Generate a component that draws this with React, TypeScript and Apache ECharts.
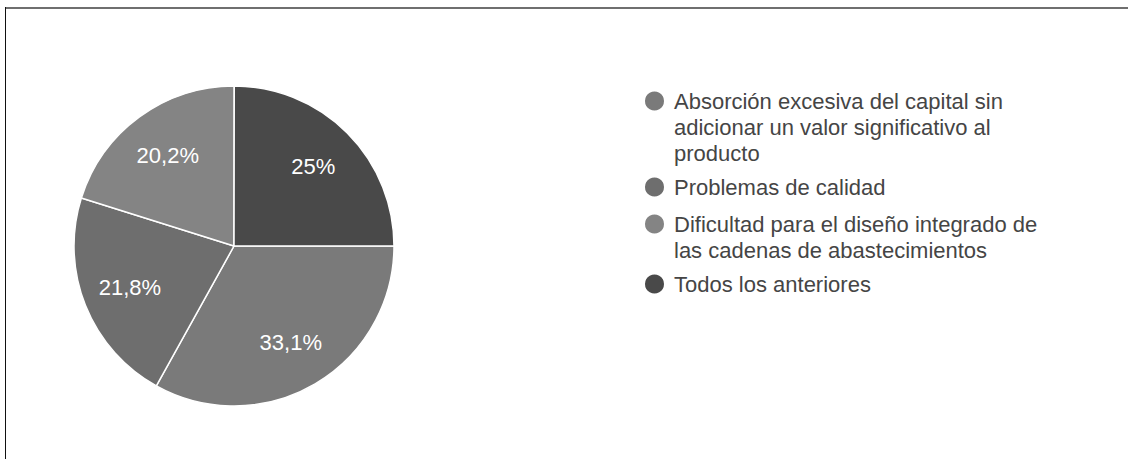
import React, { useEffect, useRef } from "react";
import * as echarts from "echarts";

const categories = [
  "Absorción excesiva del capital sin adicionar un valor significativo al producto",
  "Problemas de calidad",
  "Dificultad para el diseño integrado de las cadenas de abastecimientos",
  "Todos los anteriores",
];
const legendLines = [
  ["Absorción excesiva del capital sin", "adicionar un valor significativo al", "producto"],
  ["Problemas de calidad"],
  ["Dificultad para el diseño integrado de", "las cadenas de abastecimientos"],
  ["Todos los anteriores"],
];
const values = [33.1, 21.8, 20.2, 25];
const colors = ["#7a7a7a", "#6e6e6e", "#848484", "#494949"];

export default function App() {
  const ref = useRef<HTMLDivElement>(null);
  useEffect(() => {
    if (!ref.current) return;
    const chart = echarts.init(ref.current, null, { renderer: "svg" });
    const font = "'Liberation Sans', Arial, Helvetica, sans-serif";
    const cx = 234;
    const cy = 246;
    const R = 160;
    const lineH = 26;
    const iconCenters = [101, 187, 224, 284];
    const iconSize = 21;
    const data = categories.map((name, i) => ({ name, value: values[i] }));
    const legends = categories.map((name, i) => {
      const L = legendLines[i].length;
      const total = 2 * L - 1;
      const boxHalf = (total * lineH) / 2;
      const top = iconCenters[i] - Math.max(boxHalf, iconSize / 2);
      return {
        show: true,
        orient: "vertical",
        left: 643,
        top,
        padding: 0,
        itemWidth: iconSize,
        itemHeight: iconSize,
        icon: "circle",
        selectedMode: false,
        data: [name],
        formatter: () => "\n".repeat(L - 1) + legendLines[i].join("\n"),
        textStyle: {
          fontFamily: font,
          fontSize: 22,
          lineHeight: lineH,
          color: "#454545",
          padding: [0, 0, 0, 4],
        },
      };
    });
    chart.setOption({
      animation: false,
      backgroundColor: "#ffffff",
      legend: legends,
      graphic: [
        {
          type: "line",
          shape: { x1: 5, y1: 8, x2: 1128, y2: 8 },
          style: { stroke: "#6f6f6f", lineWidth: 2 },
        },
        {
          type: "line",
          shape: { x1: 5.5, y1: 7, x2: 5.5, y2: 459 },
          style: { stroke: "#111111", lineWidth: 1 },
        },
      ],
      series: [
        {
          type: "pie",
          center: [cx, cy],
          radius: [0, R],
          startAngle: 0,
          clockwise: true,
          color: colors,
          data,
          label: { show: false },
          labelLine: { show: false },
          itemStyle: { borderColor: "#ffffff", borderWidth: 1.5 },
          emphasis: { disabled: true },
          silent: true,
        },
        {
          type: "pie",
          center: [cx, cy],
          radius: [58, R],
          startAngle: 0,
          clockwise: true,
          data,
          itemStyle: { color: "rgba(0,0,0,0)", borderWidth: 0 },
          label: {
            show: true,
            position: "inside",
            color: "#ffffff",
            fontFamily: font,
            fontSize: 22,
            formatter: (p: any) => String(p.value).replace(".", ",") + "%",
          },
          labelLine: { show: false },
          emphasis: { disabled: true },
          silent: true,
          legendHoverLink: false,
        },
      ],
    });
    return () => chart.dispose();
  }, []);
  return (
    <div
      ref={ref}
      style={{ position: "fixed", left: 0, top: 0, width: 1128, height: 459 }}
    />
  );
}
